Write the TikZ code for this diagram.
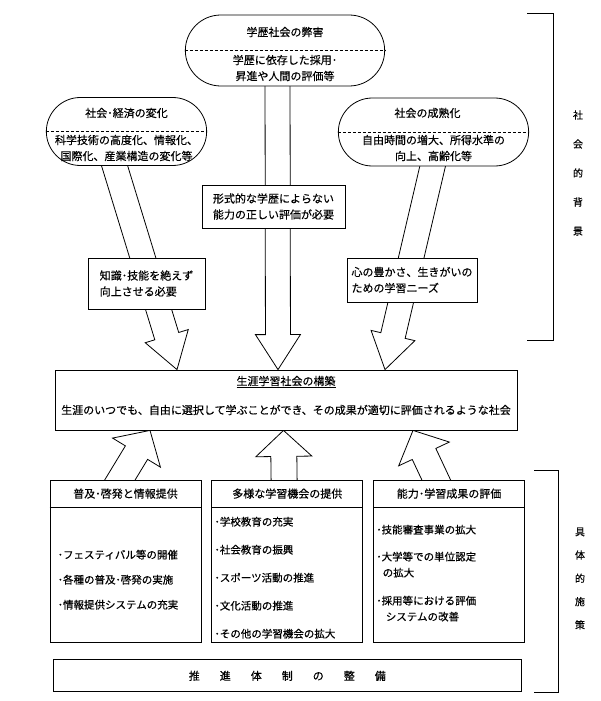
\documentclass[tikz,border=0pt]{standalone}
\usepackage{fontspec}
\setmainfont{Noto Sans CJK JP}[FakeBold=0.4]
\usetikzlibrary{positioning,calc,shapes.misc,backgrounds}
\tikzset{
  capsule/.style={draw,rounded rectangle,fill=white,line width=0.8pt},
  caption/.style={font=\fontsize{11}{16}\selectfont,align=center,inner sep=0pt},
  needbox/.style={draw,fill=white,line width=0.8pt,align=left,
    font=\fontsize{11}{16}\selectfont},
  mainbox/.style={draw,fill=white,line width=0.8pt},
  column/.style={mainbox,minimum width=151pt,minimum height=162pt},
  itemlist/.style={align=left,inner sep=0pt,anchor=north west},
  hollow/.style={draw,fill=white,line width=0.8pt,line join=miter},
  bracket/.style={line width=0.8pt},
  sidelabel/.style={align=center,inner sep=0pt,font=\fontsize{10}{29}\selectfont}
}
% #1 name, #2 start, #3 tip, #4 half shaft, #5 half head, #6 head length
\newcommand{\fatarrow}[6]{%
  \coordinate (#1-b) at ($(#3)!#6!(#2)$);
  \draw[hollow] ($(#2)!#4!90:(#3)$) -- ($(#1-b)!#4!90:(#3)$)
    -- ($(#1-b)!#5!90:(#3)$) -- (#3) -- ($(#1-b)!#5!-90:(#3)$)
    -- ($(#1-b)!#4!-90:(#3)$) -- ($(#2)!#4!-90:(#3)$) -- cycle;
}

\begin{document}
\begin{tikzpicture}[x=1pt,y=-1pt]
  \useasboundingbox (0,0) rectangle (600,701);

  % social background
  \node[capsule,minimum width=206pt,minimum height=71pt] (heigai) at (285,50.5) {};
  \node[capsule,minimum width=167pt,minimum height=68pt] (keizai) at (126.5,131.5) {};
  \node[capsule,minimum width=197pt,minimum height=68pt] (seijuku) at (433.5,132) {};
  \foreach \c in {heigai,keizai,seijuku}
    \draw[densely dashed] (\c.west) -- (\c.east);
  \node[caption] (heigai-t) at ($(heigai.center)+(0,-18.5)$) {学歴社会の弊害};
  \node[caption] (heigai-b) at ($(heigai.center)+(0,17.5)$) {学歴に依存した採用･\\昇進や人間の評価等};
  \node[caption] (keizai-t) at ($(keizai.center)+(0,-18.5)$) {社会･経済の変化};
  \node[caption] (keizai-b) at ($(keizai.center)+(0,16.5)$) {科学技術の高度化、情報化、\\国際化、産業構造の変化等};
  \node[caption] (seijuku-t) at ($(seijuku.center)+(-6,-19)$) {社会の成熟化};
  \node[caption] (seijuku-b) at ($(seijuku.center)+(0,16)$) {自由時間の増大、所得水準の\\向上、高齢化等};

  % needs
  \node[needbox,minimum width=117pt,minimum height=51pt] (need-l) at (146.5,283.5) {知識･技能を絶えず\\向上させる必要};
  \node[needbox,align=center,minimum width=143pt,minimum height=43pt] (need-c) at (273.5,206.5) {形式的な学歴によらない\\能力の正しい評価が必要};
  \node[needbox,minimum width=130pt,minimum height=44pt] (need-r) at (412,280) {心の豊かさ、生きがいの\\ための学習ニーズ};

  % goal
  \node[mainbox,minimum width=462pt,minimum height=60pt] (society) at (286,400) {};
  \node[caption] (society-t) at ($(society.center)+(0,-18)$) {\underline{生涯学習社会の構築}};
  \node[caption] (society-b) at ($(society.center)+(0,10)$) {生涯のいつでも、自由に選択して学ぶことができ、その成果が適切に評価されるような社会};

  % measures
  \node[column] (fukyu) at (125.5,561) {};
  \node[column,right=10pt of fukyu] (kikai) {};
  \node[column,right=10pt of kikai] (hyoka) {};
  \foreach \c in {fukyu,kikai,hyoka}
    \draw[line width=0.8pt] ($(\c.north west)+(0,28)$) -- ($(\c.north east)+(0,28)$);
  \node[caption] (fukyu-t) at ($(fukyu.north)+(0,14)$) {普及･啓発と情報提供};
  \node[caption] (kikai-t) at ($(kikai.north)+(0,14)$) {多様な学習機会の提供};
  \node[caption] (hyoka-t) at ($(hyoka.north)+(0,14)$) {能力･学習成果の評価};
  \node[itemlist,font=\fontsize{10.5}{25}\selectfont] (fukyu-i) at ($(fukyu.north west)+(8,70)$)
    {･フェスティバル等の開催\\･各種の普及･啓発の実施\\･情報提供システムの充実};
  \node[itemlist,font=\fontsize{10.5}{28}\selectfont] (kikai-i) at ($(kikai.north west)+(3,37)$)
    {･学校教育の充実\\･社会教育の振興\\･スポーツ活動の推進\\･文化活動の推進\\･その他の学習機会の拡大};
  \node[itemlist,font=\fontsize{10.5}{16}\selectfont] (hyoka-i) at ($(hyoka.north west)+(3,45)$)
    {･技能審査事業の拡大\\[11pt]･大学等での単位認定\\\hspace*{0.6em}の拡大\\[12pt]･採用等における評価\\\hspace*{0.9em}システムの改善};
  \node[mainbox,minimum width=468pt,minimum height=32pt,below=17pt of kikai,
    font=\fontsize{11}{16}\selectfont] (suishin)
    {推\hspace{20pt}進\hspace{20pt}体\hspace{20pt}制\hspace{20pt}の\hspace{20pt}整\hspace{20pt}備};

  % brackets
  \draw[bracket] (527,13) -- (553,13) -- (553,340) -- (527,340);
  \draw[bracket] (534,470) -- (558,470) -- (558,692) -- (534,692);
  \node[sidelabel] (haikei) at (578,173) {社\\会\\的\\背\\景};
  \node[sidelabel,font=\fontsize{10}{23.3}\selectfont] (shisaku) at (580,578.5) {具\\体\\的\\施\\策};

  % block arrows
  \begin{scope}[on background layer]
    \coordinate (d1s) at ($(keizai.south)+(-18,-20)$);
    \coordinate (d1t) at ($(society.north)+(-109,0)$);
    \coordinate (d2s) at ($(heigai.south)+(-7.5,-20)$);
    \coordinate (d2t) at ($(society.north)+(-8,0)$);
    \coordinate (d3s) at ($(seijuku.south)+(4,-21)$);
    \coordinate (d3t) at ($(society.north)+(99,0)$);
    \fatarrow{d1}{d1s}{d1t}{12.5pt}{22.5pt}{35pt}
    \fatarrow{d2}{d2s}{d2t}{12.5pt}{22.5pt}{35pt}
    \fatarrow{d3}{d3s}{d3t}{12.5pt}{22.5pt}{35pt}
    \coordinate (u1s) at ($(fukyu.north)+(-14.5,15)$);
    \coordinate (u1t) at ($(society.south)+(-136,0)$);
    \coordinate (u2s) at ($(kikai.north)+(-3,15)$);
    \coordinate (u2t) at ($(society.south)+(-2.5,0)$);
    \coordinate (u3s) at ($(hyoka.north)+(-6,15)$);
    \coordinate (u3t) at ($(society.south)+(127,0)$);
    \fatarrow{u1}{u1s}{u1t}{13pt}{28pt}{26pt}
    \fatarrow{u2}{u2s}{u2t}{13pt}{28pt}{26pt}
    \fatarrow{u3}{u3s}{u3t}{13pt}{28pt}{26pt}
  \end{scope}
\end{tikzpicture}
\end{document}
